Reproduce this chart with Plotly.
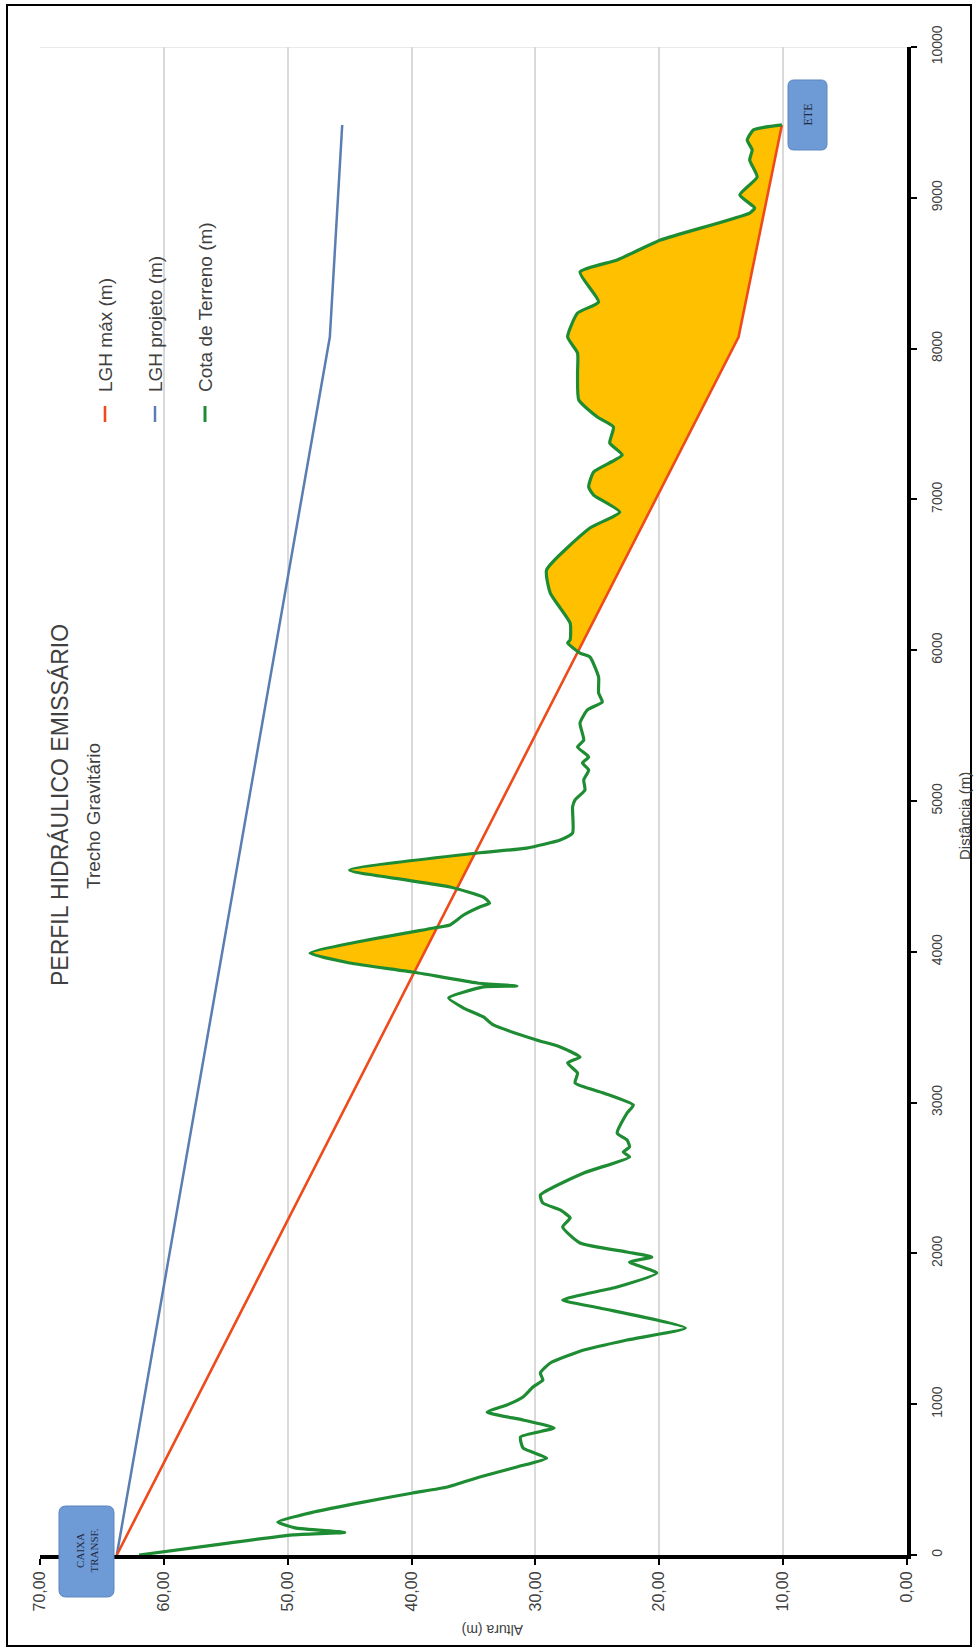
import numpy as np
import plotly.graph_objects as go

# ---- data -------------------------------------------------------------
# hydraulic grade lines (distance in m, elevation in m)
dist_lgh = [0, 8077, 9483]
lgh_max = [63.8, 13.6, 10.1]
lgh_projeto = [63.8, 46.6, 45.6]

# ground profile along the outfall
dist_terreno = [0, 66, 133, 150, 180, 219, 285, 351, 411, 451, 517, 584, 643, 709,
                783, 842, 895, 948, 995, 1048, 1114, 1160, 1207, 1273, 1359, 1426,
                1505, 1638, 1691, 1777, 1870, 1943, 1976, 2009, 2069, 2175, 2235,
                2288, 2334, 2387, 2533, 2640, 2672, 2706, 2752, 2798, 2931, 2984,
                3064, 3130, 3196, 3263, 3302, 3369, 3415, 3515, 3568, 3627, 3694,
                3767, 3773, 3793, 3866, 3926, 3992, 4158, 4178, 4244, 4297, 4323,
                4363, 4430, 4542, 4655, 4688, 4741, 4788, 4960, 5007, 5073, 5139,
                5206, 5252, 5292, 5358, 5404, 5517, 5604, 5657, 5716, 5822, 5955,
                5981, 6048, 6068, 6180, 6379, 6532, 6810, 6916, 7029, 7082, 7182,
                7294, 7374, 7480, 7546, 7659, 7838, 7971, 8077, 8236, 8309, 8508,
                8588, 8720, 8899, 8933, 9019, 9138, 9250, 9317, 9383, 9450, 9483]
cota_terreno = [62.0, 56.0, 49.6, 45.4, 49.4, 50.8, 47.9, 43.9, 39.9, 37.1, 34.5, 31.5,
                29.1, 31.0, 31.2, 28.5, 31.0, 33.9, 32.3, 31.0, 30.2, 29.4, 29.6, 28.8,
                26.1, 22.6, 17.9, 24.8, 27.8, 23.4, 20.2, 22.4, 20.6, 22.6, 26.4, 27.8,
                27.2, 28.0, 29.4, 29.6, 26.1, 22.4, 22.9, 22.4, 22.6, 23.4, 22.6, 22.1,
                24.5, 26.8, 26.6, 27.4, 26.4, 28.0, 29.9, 33.4, 34.2, 35.8, 37.0, 34.2,
                31.5, 34.7, 39.9, 45.0, 48.2, 38.2, 36.9, 35.8, 34.5, 33.7, 34.2, 36.9,
                45.0, 34.7, 30.7, 28.0, 27.0, 27.0, 26.8, 26.0, 26.1, 25.7, 26.2, 25.7,
                26.6, 26.1, 26.4, 25.8, 24.6, 24.9, 24.9, 25.6, 26.4, 27.4, 27.2, 27.2,
                28.8, 29.1, 25.6, 23.2, 25.3, 25.7, 25.3, 23.0, 24.0, 23.7, 25.0, 26.5,
                26.6, 26.6, 27.4, 26.6, 24.9, 26.4, 23.4, 19.9, 12.7, 12.3, 13.5, 12.1,
                12.7, 12.5, 12.9, 12.4, 10.1]

altura_ticks = [0, 10, 20, 30, 40, 50, 60, 70]
altura_labels = ["0,00", "10,00", "20,00", "30,00", "40,00", "50,00", "60,00", "70,00"]
dist_ticks = list(range(0, 10001, 1000))
dist_labels = [str(v) for v in dist_ticks]

# ---- colours ----------------------------------------------------------
C_MAX = "#EE4B1C"
C_PROJ = "#5A7DB2"
C_TERR = "#1E8C32"
C_FILL = "#FFC000"
C_TEXT = "#404040"
C_TAG = "#6E9BD5"
C_TAG_EDGE = "#5A86C0"
FONT = "Liberation Sans, Arial, sans-serif"
SERIF = "Liberation Serif, Times New Roman, serif"

# ---- region where the ground is above the max grade line --------------
d_t = np.array(dist_terreno, float)
a_t = np.array(cota_terreno, float)
red_t = np.interp(d_t, dist_lgh, lgh_max)
diff = a_t - red_t
grid_d, grid_g, grid_r = [], [], []
for i in range(len(d_t)):
    if i > 0 and diff[i - 1] * diff[i] < 0:
        f = diff[i - 1] / (diff[i - 1] - diff[i])
        dc = d_t[i - 1] + f * (d_t[i] - d_t[i - 1])
        rc = np.interp(dc, dist_lgh, lgh_max)
        grid_d.append(dc); grid_g.append(rc); grid_r.append(rc)
    grid_d.append(d_t[i]); grid_g.append(max(a_t[i], red_t[i])); grid_r.append(red_t[i])

# ---- layout geometry (pixels) -----------------------------------------
W, H = 976, 1651
L, R, T, B = 40, 69, 47, 96
PW, PH = W - L - R, H - T - B


def px(X, Y):
    return (X - L) / PW, (H - B - Y) / PH


def rounded_rect(X0, Y0, X1, Y1, r):
    pts = [("M", X0 + r, Y0), ("L", X1 - r, Y0), ("Q", X1, Y0, X1, Y0 + r),
           ("L", X1, Y1 - r), ("Q", X1, Y1, X1 - r, Y1), ("L", X0 + r, Y1),
           ("Q", X0, Y1, X0, Y1 - r), ("L", X0, Y0 + r), ("Q", X0, Y0, X0 + r, Y0)]
    out = []
    for p in pts:
        cmd, coords = p[0], p[1:]
        conv = []
        for k in range(0, len(coords), 2):
            xx, yy = px(coords[k], coords[k + 1])
            conv.append(f"{xx:.5f},{yy:.5f}")
        out.append(cmd + " " + " ".join(conv))
    return " ".join(out) + " Z"


def vtext(text, X, Y, size, angle=-90, family=FONT, color=C_TEXT, xa="center", ya="middle"):
    tx, ty = px(X, Y)
    return dict(text=text, xref="paper", yref="paper", x=tx, y=ty, xanchor=xa,
                yanchor=ya, textangle=angle, showarrow=False,
                font=dict(family=family, size=size, color=color))


fig = go.Figure()

fig.add_trace(go.Scatter(x=grid_r, y=grid_d, mode="lines", line=dict(width=0),
                         showlegend=False, hoverinfo="skip"))
fig.add_trace(go.Scatter(x=grid_g, y=grid_d, mode="lines",
                         line=dict(width=0, shape="spline", smoothing=0.5),
                         fill="tonextx", fillcolor=C_FILL, showlegend=False,
                         hoverinfo="skip"))

fig.add_trace(go.Scatter(x=lgh_projeto, y=dist_lgh, mode="lines", name="LGH projeto (m)",
                         line=dict(color=C_PROJ, width=2.5), showlegend=False))
fig.add_trace(go.Scatter(x=lgh_max, y=dist_lgh, mode="lines", name="LGH máx (m)",
                         line=dict(color=C_MAX, width=2.6), showlegend=False))
fig.add_trace(go.Scatter(x=cota_terreno, y=dist_terreno, mode="lines",
                         name="Cota de Terreno (m)",
                         line=dict(color=C_TERR, width=3.2, shape="spline", smoothing=0.5),
                         showlegend=False))

shapes = []
annotations = []
# faint top border of plot area
shapes.append(dict(type="line", xref="x", yref="y", x0=70, x1=0, y0=10000, y1=10000,
                   line=dict(color="#e3e3e3", width=1.5), layer="below"))
# outer frame
x0, y0 = px(7, 1646)
x1, y1 = px(971, 5)
shapes.append(dict(type="rect", xref="paper", yref="paper", x0=x0, y0=y0, x1=x1, y1=y1,
                   line=dict(color="black", width=2)))

# rotated legend
legend_items = [("LGH máx (m)", C_MAX, 2.6, 105),
                ("LGH projeto (m)", C_PROJ, 2.5, 155),
                ("Cota de Terreno (m)", C_TERR, 3, 205)]
for label, col, lw, X in legend_items:
    kx, ky0 = px(X, 422)
    _, ky1 = px(X, 406)
    shapes.append(dict(type="line", xref="paper", yref="paper", x0=kx, x1=kx,
                       y0=ky0, y1=ky1, line=dict(color=col, width=lw)))
    annotations.append(vtext(label, X, 394, 19, ya="bottom"))

# titles
annotations.append(vtext("PERFIL HIDRÁULICO EMISSÁRIO", 60, 805, 23))
annotations.append(vtext("Trecho Gravitário", 93, 816, 19))
annotations.append(vtext("Distância (m)", 964, 816, 15))
annotations.append(vtext("Altura (m)", 492, 1630, 14, angle=180))

# end-point tags
shapes.append(dict(type="path", xref="paper", yref="paper",
                   path=rounded_rect(59, 1506, 114, 1597, 7),
                   fillcolor=C_TAG, line=dict(color=C_TAG_EDGE, width=1)))
annotations.append(vtext("CAIXA<br>TRANSF.", 86.5, 1551, 11, family=SERIF, color="#1F2A44"))
shapes.append(dict(type="path", xref="paper", yref="paper",
                   path=rounded_rect(788, 80, 827, 150, 6),
                   fillcolor=C_TAG, line=dict(color=C_TAG_EDGE, width=1)))
annotations.append(vtext("ETE", 807.5, 115, 12, family=SERIF, color="#1F2A44"))

fig.update_layout(
    width=W, height=H,
    margin=dict(l=L, r=R, t=T, b=B),
    paper_bgcolor="white", plot_bgcolor="white",
    shapes=shapes, annotations=annotations,
    xaxis=dict(range=[70, 0], tickvals=altura_ticks, ticktext=altura_labels,
               tickangle=-90, showgrid=True, gridcolor="#d9d9d9", gridwidth=1.5,
               showline=True, linecolor="black", linewidth=4, ticks="outside",
               ticklen=6, tickwidth=2, tickcolor="black", zeroline=False,
               tickfont=dict(family=FONT, size=16, color=C_TEXT)),
    yaxis=dict(range=[0, 10000], side="right", tickvals=dist_ticks, ticktext=dist_labels,
               tickangle=-90, showgrid=False, showline=True, linecolor="black",
               linewidth=4, ticks="outside", ticklen=6, tickwidth=2, tickcolor="black",
               zeroline=False, ticklabelstandoff=8,
               tickfont=dict(family=FONT, size=14, color=C_TEXT)),
)

fig.write_html("out.html")
